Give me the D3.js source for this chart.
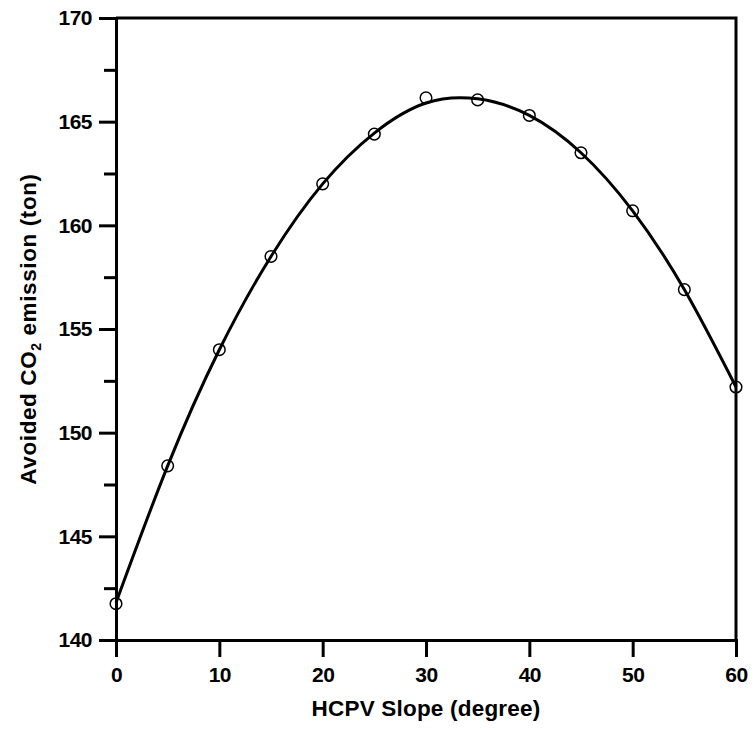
<!DOCTYPE html>
<html>
<head>
<meta charset="utf-8">
<script src="https://cdn.jsdelivr.net/npm/d3@7"></script>
<style>
  body { margin: 0; background: #fff; }
  text { font-family: "Liberation Sans", Arial, sans-serif; font-weight: bold; fill: #000; }
</style>
</head>
<body>
<div id="chart"></div>
<script>
// measured points (slope in degree, avoided CO2 in ton)
var slopes = [0, 5, 10, 15, 20, 25, 30, 35, 40, 45, 50, 55, 60];
var avoided = [141.75, 148.4, 154.0, 158.5, 162.0, 164.4, 166.15, 166.05, 165.3, 163.5, 160.7, 156.9, 152.2];

// fitted curve at the same slopes
var fitSlopes = [0, 5, 10, 15, 20, 25, 30, 35, 40, 45, 50, 55, 60];
var fitValues = [141.8, 148.4, 154.0, 158.5, 162.0, 164.45, 165.9, 166.1, 165.3, 163.5, 160.7, 156.9, 152.2];

var xTicks = [0, 10, 20, 30, 40, 50, 60];
var yTicks = [140, 145, 150, 155, 160, 165, 170];
var yMinorTicks = [142.5, 147.5, 152.5, 157.5, 162.5, 167.5];

var svgWidth = 755;
var svgHeight = 730;

var margin = { top: 18, right: 19, bottom: 90, left: 116 };
var width = svgWidth - margin.left - margin.right;
var height = svgHeight - margin.top - margin.bottom;

var svg = d3.select("#chart")
  .append("svg")
  .attr("width", svgWidth)
  .attr("height", svgHeight);

var chartGroup = svg.append("g")
  .attr("transform", `translate(${margin.left}, ${margin.top})`);

var xScale = d3.scaleLinear().domain([0, 60]).range([0, width]);
var yScale = d3.scaleLinear().domain([140, 170]).range([height, 0]);

// frame (top and right)
chartGroup.append("path")
  .attr("d", `M0,0H${width}V${height}`)
  .attr("fill", "none")
  .attr("stroke", "#000")
  .attr("stroke-width", 3);

// bottom axis
var bottomAxis = d3.axisBottom(xScale).tickValues(xTicks).tickSize(17).tickPadding(10);
var xAxis = chartGroup.append("g")
  .attr("transform", `translate(0, ${height})`)
  .call(bottomAxis);

// left axis, minor ticks first
chartGroup.append("g")
  .call(d3.axisLeft(yScale).tickValues(yMinorTicks).tickSize(12).tickFormat(""))
  .call(g => g.select(".domain").remove());

var leftAxis = d3.axisLeft(yScale).tickValues(yTicks).tickSize(17).tickPadding(7);
var yAxis = chartGroup.append("g").call(leftAxis);

chartGroup.selectAll(".domain, .tick line")
  .attr("stroke", "#000")
  .attr("stroke-width", 3);

chartGroup.selectAll(".tick text")
  .style("font-size", "21px")
  .style("font-family", "'Liberation Sans', Arial, sans-serif")
  .style("font-weight", "bold")
  .style("letter-spacing", "-0.5px")
  .attr("fill", "#000");

// fitted curve
var line = d3.line()
  .x((d, i) => xScale(fitSlopes[i]))
  .y(d => yScale(d))
  .curve(d3.curveNatural);

chartGroup.append("path")
  .datum(fitValues)
  .attr("d", line)
  .attr("fill", "none")
  .attr("stroke", "#000")
  .attr("stroke-width", 3);

// data markers
chartGroup.selectAll("circle")
  .data(avoided)
  .enter()
  .append("circle")
  .attr("cx", (d, i) => xScale(slopes[i]))
  .attr("cy", d => yScale(d))
  .attr("r", 5.8)
  .attr("fill", "none")
  .attr("stroke", "#000")
  .attr("stroke-width", 1.5);

// axis titles
svg.append("text")
  .attr("x", margin.left + width / 2)
  .attr("y", 716)
  .attr("text-anchor", "middle")
  .style("font-size", "22.5px")
  .style("letter-spacing", "0.2px")
  .text("HCPV Slope (degree)");

var yTitle = svg.append("text")
  .attr("transform", `translate(36, ${margin.top + height / 2}) rotate(-90)`)
  .attr("text-anchor", "middle")
  .style("font-size", "22.5px")
  .style("letter-spacing", "0.6px");
yTitle.append("tspan").text("Avoided CO");
yTitle.append("tspan").attr("dy", 5).style("font-size", "14px").text("2");
yTitle.append("tspan").attr("dy", -5).text(" emission (ton)");
</script>
</body>
</html>
